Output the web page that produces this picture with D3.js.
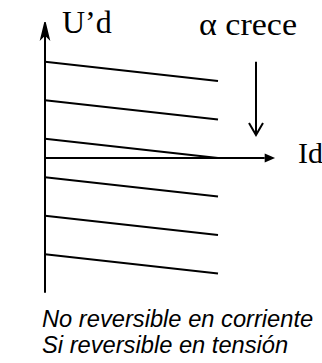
<!DOCTYPE html>
<html><head><meta charset="utf-8">
<script src="https://cdn.jsdelivr.net/npm/d3@7"></script>
<style>html,body{margin:0;padding:0;background:#fff;}svg{display:block;}</style>
</head><body>
<script>
// Data: family of U'd vs Id lines, one per firing angle (alpha grows downward)
const idDomain = [0, 1];                       // Id range of each line
const udStart = [2.5, 1.5, 0.5, -0.5, -1.5, -2.5]; // U'd at Id = 0
const udEnd   = [2.0, 1.0, 0.0, -1.0, -2.0, -3.0]; // U'd at Id = max
const axisLabels = ["U\u2019d", "Id"];
const annotation = "\u03b1 crece";
const caption = ["No reversible en corriente", "Si reversible en tensi\u00f3n"];

const W = 322, H = 363;
const svg = d3.select("body").append("svg").attr("width", W).attr("height", H);

const x = d3.scaleLinear().domain([0, 1]).range([45, 218]);
const y = d3.scaleLinear().domain([-1, 1]).range([196.5, 119.5]);

// axes
svg.append("line").attr("x1", x(0)).attr("x2", x(0)).attr("y1", y(3.45)).attr("y2", y(-3.5))
  .attr("stroke", "#000").attr("stroke-width", 2);
svg.append("path")
  .attr("d", `M${x(0)},${y(3.5)-1} L${x(0)+4},${y(3.1)} L${x(0)},${y(3.2)} L${x(0)-4},${y(3.1)} Z`)
  .attr("fill", "#000").attr("stroke", "#000").attr("stroke-width", 1.5);
svg.append("line").attr("x1", x(0)).attr("x2", x(1.27)).attr("y1", y(0)).attr("y2", y(0))
  .attr("stroke", "#000").attr("stroke-width", 2);
svg.append("path")
  .attr("d", `M${x(1.33)},${y(0)} L${x(1.27)},${y(0)-4.5} L${x(1.27)},${y(0)+4.5} Z`)
  .attr("fill", "#000");

// lines
svg.append("g").selectAll("line").data(udStart).join("line")
  .attr("x1", x(idDomain[0])).attr("x2", x(idDomain[1]))
  .attr("y1", d => y(d)).attr("y2", (d, i) => y(udEnd[i]))
  .attr("stroke", "#000").attr("stroke-width", 2);

// alpha arrow
const ax = 256;
svg.append("line").attr("x1", ax).attr("x2", ax).attr("y1", y(2.5)).attr("y2", y(0.6))
  .attr("stroke", "#000").attr("stroke-width", 2);
svg.append("path").attr("d", `M${ax-7},${y(0.6)-12} L${ax},${y(0.6)} L${ax+7},${y(0.6)-12}`)
  .attr("fill", "none").attr("stroke", "#000").attr("stroke-width", 2);

// labels
const serif = "'Liberation Serif', 'Times New Roman', serif";
svg.append("text").attr("x", 62).attr("y", 33).text(axisLabels[0])
  .attr("font-family", serif).attr("font-size", 32).attr("fill", "#000");
svg.append("text").attr("x", 298).attr("y", 163).text(axisLabels[1])
  .attr("font-family", serif).attr("font-size", 30).attr("fill", "#000");
svg.append("text").attr("x", 199).attr("y", 35).text(annotation)
  .attr("font-family", serif).attr("font-size", 32).attr("fill", "#000")
  .attr("textLength", 98).attr("lengthAdjust", "spacingAndGlyphs");

svg.append("g").selectAll("text").data(caption).join("text")
  .attr("x", 42).attr("y", (d, i) => 327 + i * 26)
  .text(d => d)
  .attr("font-family", "'Liberation Sans', Arial, sans-serif")
  .attr("font-style", "italic").attr("font-size", 23.7).attr("fill", "#000");
</script>
</body></html>
